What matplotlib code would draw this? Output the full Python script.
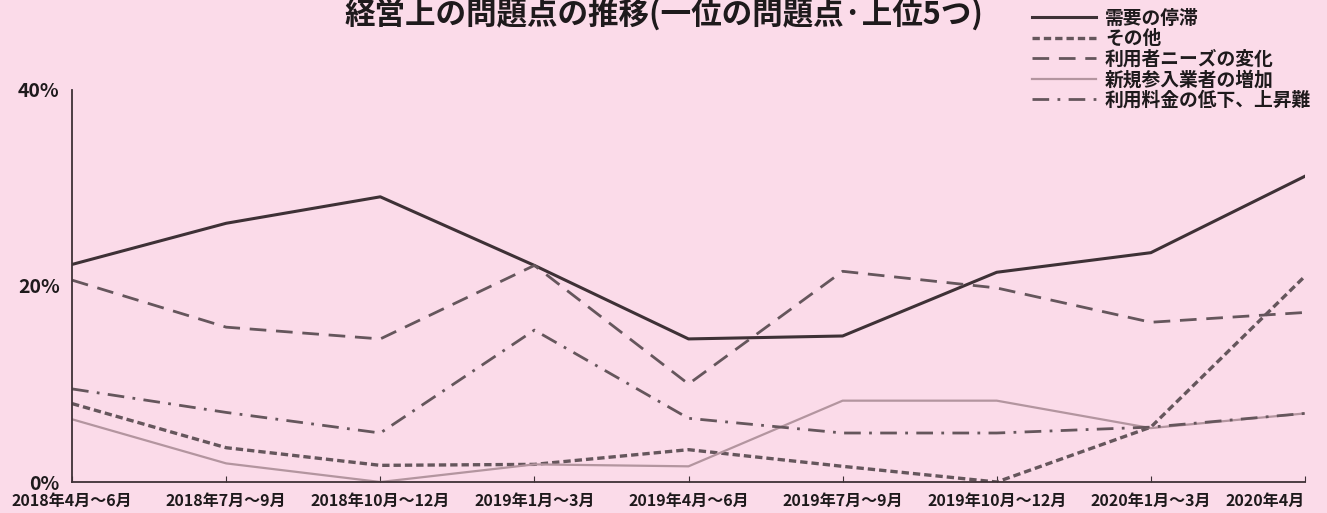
import matplotlib
matplotlib.use("Agg")
import matplotlib.pyplot as plt

plt.rcParams['font.family'] = ['Noto Sans CJK JP', 'DejaVu Sans']

periods = ["2018年4月～6月", "2018年7月～9月", "2018年10月～12月", "2019年1月～3月",
           "2019年4月～6月", "2019年7月～9月", "2019年10月～12月", "2020年1月～3月", "2020年4月"]

demand = [22.2, 26.4, 29.1, 22.1, 14.6, 14.9, 21.4, 23.4, 31.2]
other = [8.0, 3.5, 1.7, 1.8, 3.3, 1.6, 0.0, 5.6, 21.0]
needs = [20.6, 15.8, 14.6, 22.1, 10.0, 21.5, 19.8, 16.3, 17.3]
entrants = [6.4, 1.9, 0.0, 1.8, 1.6, 8.3, 8.3, 5.5, 7.0]
price = [9.5, 7.1, 5.0, 15.5, 6.5, 5.0, 5.0, 5.6, 7.0]

yticks = [0, 20, 40]
ytick_labels = ["0%", "20%", "40%"]

bg = "#fbdbe9"
dark = "#3e3136"
mid = "#65565c"
txt = "#1e1a1c"

fig = plt.figure(figsize=(13.27, 5.13), dpi=100, facecolor=bg)
ax = fig.add_axes([0.0543, 0.0604, 0.9291, 0.7642], facecolor=bg)

x = range(len(periods))
ax.plot(x, demand, color=dark, lw=2.2, label="需要の停滞")
ax.plot(x, other, color=mid, lw=2.4, linestyle=(0, (2.2, 1.2)), label="その他")
ax.plot(x, needs, color=mid, lw=2.0, linestyle=(0, (6, 3.5)), label="利用者ニーズの変化")
ax.plot(x, entrants, color="#b3959f", lw=1.6, label="新規参入業者の増加")
ax.plot(x, price, color=mid, lw=2.0, linestyle=(0, (6, 3, 1, 3)), label="利用料金の低下、上昇難")

ax.set_xlim(0, len(periods) - 1)
ax.set_ylim(0, 40)
for s in ["top", "right"]:
    ax.spines[s].set_visible(False)
for s in ["left", "bottom"]:
    ax.spines[s].set_color(dark)
    ax.spines[s].set_linewidth(1.3)

ax.set_yticks(yticks)
ax.set_yticklabels(ytick_labels, fontsize=14, fontweight="bold", color=txt)
ax.tick_params(axis="y", length=0, pad=9)
ax.set_xticks(list(x))
ax.set_xticklabels(periods, fontsize=11.5, fontweight="bold", color=txt)
ax.tick_params(axis="x", direction="in", length=4, color=dark, pad=8)
ax.get_xticklabels()[-1].set_ha("right")

fig.text(0.5, 1 - 14 / 513, "経営上の問題点の推移(一位の問題点·上位5つ)", ha="center", va="center",
         fontsize=22, fontweight="bold", color=txt)

leg = fig.legend(loc="upper left", bbox_to_anchor=(1015 / 1327, 1 + 8 / 513), frameon=False,
                 handlelength=3.4, handletextpad=0.5, labelspacing=0.08,
                 prop={"size": 13.5, "weight": "bold"})
for t in leg.get_texts():
    t.set_color(txt)

fig.savefig("out.png", dpi=100, facecolor=bg)
